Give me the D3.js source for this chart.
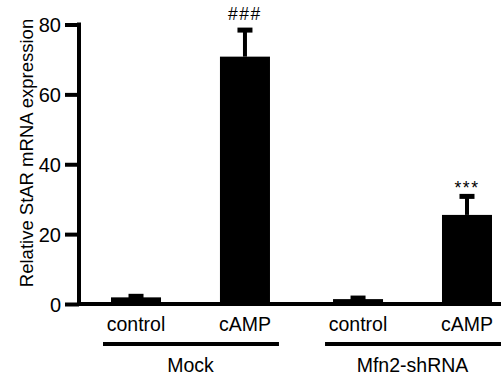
<!DOCTYPE html>
<html>
<head>
<meta charset="utf-8">
<script src="https://cdn.jsdelivr.net/npm/d3@7"></script>
<style>
  html, body { margin: 0; padding: 0; background: #fff; }
  svg { display: block; font-family: "Liberation Sans", Arial, sans-serif; }
</style>
</head>
<body>
<script>
// data
const groups = ["Mock", "Mfn2-shRNA"];
const conditions = ["control", "cAMP"];
const means = [[1.9, 70.8], [1.4, 25.5]];
const sems = [[0.3, 7.6], [0.3, 5.3]];
const marks = [["", "###"], ["", "***"]];
const yTicks = [0, 20, 40, 60, 80];
const yTitle = "Relative StAR mRNA expression";

const width = 501;
const height = 377;
const axisX = 79;
const baseY = 304;

const svg = d3.select("body")
  .append("svg")
  .attr("width", width)
  .attr("height", height);

const y = d3.scaleLinear()
  .domain([0, 80])
  .range([baseY, 24.5]);

// outer scale for the two groups, inner for the bars inside a group
const x0 = d3.scaleBand()
  .domain(groups)
  .range([111, 492])
  .paddingInner(0.284)
  .paddingOuter(0);

const x1 = d3.scaleBand()
  .domain(conditions)
  .range([0, x0.bandwidth()])
  .paddingInner(0.541)
  .paddingOuter(0);

const rows = [];
groups.forEach((g, gi) => {
  conditions.forEach((c, ci) => {
    rows.push({ group: g, cond: c, mean: means[gi][ci], sem: sems[gi][ci], mark: marks[gi][ci] });
  });
});

const barX = d => x0(d.group) + x1(d.cond);
const barMid = d => barX(d) + x1.bandwidth() / 2;

// bars
svg.append("g")
  .selectAll("rect")
  .data(rows)
  .join("rect")
  .attr("x", barX)
  .attr("y", d => y(d.mean))
  .attr("width", x1.bandwidth())
  .attr("height", d => baseY - y(d.mean))
  .attr("fill", "#000");

// error bars: stem + cap
const err = svg.append("g");
err.selectAll("line")
  .data(rows)
  .join("line")
  .attr("x1", barMid)
  .attr("x2", barMid)
  .attr("y1", d => y(d.mean))
  .attr("y2", d => y(d.mean + d.sem))
  .attr("stroke", "#000")
  .attr("stroke-width", 4);
err.selectAll("rect")
  .data(rows)
  .join("rect")
  .attr("x", d => barMid(d) - 7.5)
  .attr("y", d => y(d.mean + d.sem) - 2.5)
  .attr("width", 15)
  .attr("height", 5)
  .attr("fill", "#000");

// significance marks
svg.append("g")
  .selectAll("text")
  .data(rows.filter(d => d.mark))
  .join("text")
  .attr("x", barMid)
  .attr("y", d => y(d.mean + d.sem) - (d.mark === "###" ? 10.5 : 2.5))
  .attr("text-anchor", "middle")
  .attr("font-size", 17.5)
  .attr("letter-spacing", 1.5)
  .text(d => d.mark);

// y axis
const yAxis = svg.append("g")
  .attr("transform", `translate(${axisX},0)`)
  .call(d3.axisLeft(y).tickValues(yTicks).tickSize(14).tickPadding(4));
yAxis.select(".domain").remove();
yAxis.selectAll(".tick line")
  .attr("stroke", "#000")
  .attr("stroke-width", 4);
yAxis.selectAll(".tick text")
  .attr("font-size", 20)
  .attr("font-family", "Liberation Sans, Arial, sans-serif")
  .attr("fill", "#000")
  .attr("dy", "0.36em");
yAxis.append("line")
  .attr("x1", 0).attr("x2", 0)
  .attr("y1", y(80) - 2).attr("y2", baseY + 2)
  .attr("stroke", "#000")
  .attr("stroke-width", 4);

// x baseline
svg.append("line")
  .attr("x1", axisX - 2)
  .attr("x2", width)
  .attr("y1", baseY)
  .attr("y2", baseY)
  .attr("stroke", "#000")
  .attr("stroke-width", 4);

// condition labels
svg.append("g")
  .selectAll("text")
  .data(rows)
  .join("text")
  .attr("x", barMid)
  .attr("y", 331)
  .attr("text-anchor", "middle")
  .attr("font-size", 19.5)
  .text(d => d.cond);

// group underlines and labels
const grp = svg.append("g")
  .selectAll("g")
  .data(groups)
  .join("g");
grp.append("line")
  .attr("x1", g => x0(g) - 8)
  .attr("x2", g => x0(g) + x0.bandwidth() + 9)
  .attr("y1", 344)
  .attr("y2", 344)
  .attr("stroke", "#000")
  .attr("stroke-width", 4);
grp.append("text")
  .attr("x", g => x0(g) + x0.bandwidth() / 2)
  .attr("y", 372)
  .attr("text-anchor", "middle")
  .attr("font-size", 19.5)
  .text(g => g);

// y title
svg.append("text")
  .attr("transform", `translate(33,${153}) rotate(-90)`)
  .attr("text-anchor", "middle")
  .attr("font-size", 18.5)
  .text(yTitle);
</script>
</body>
</html>
